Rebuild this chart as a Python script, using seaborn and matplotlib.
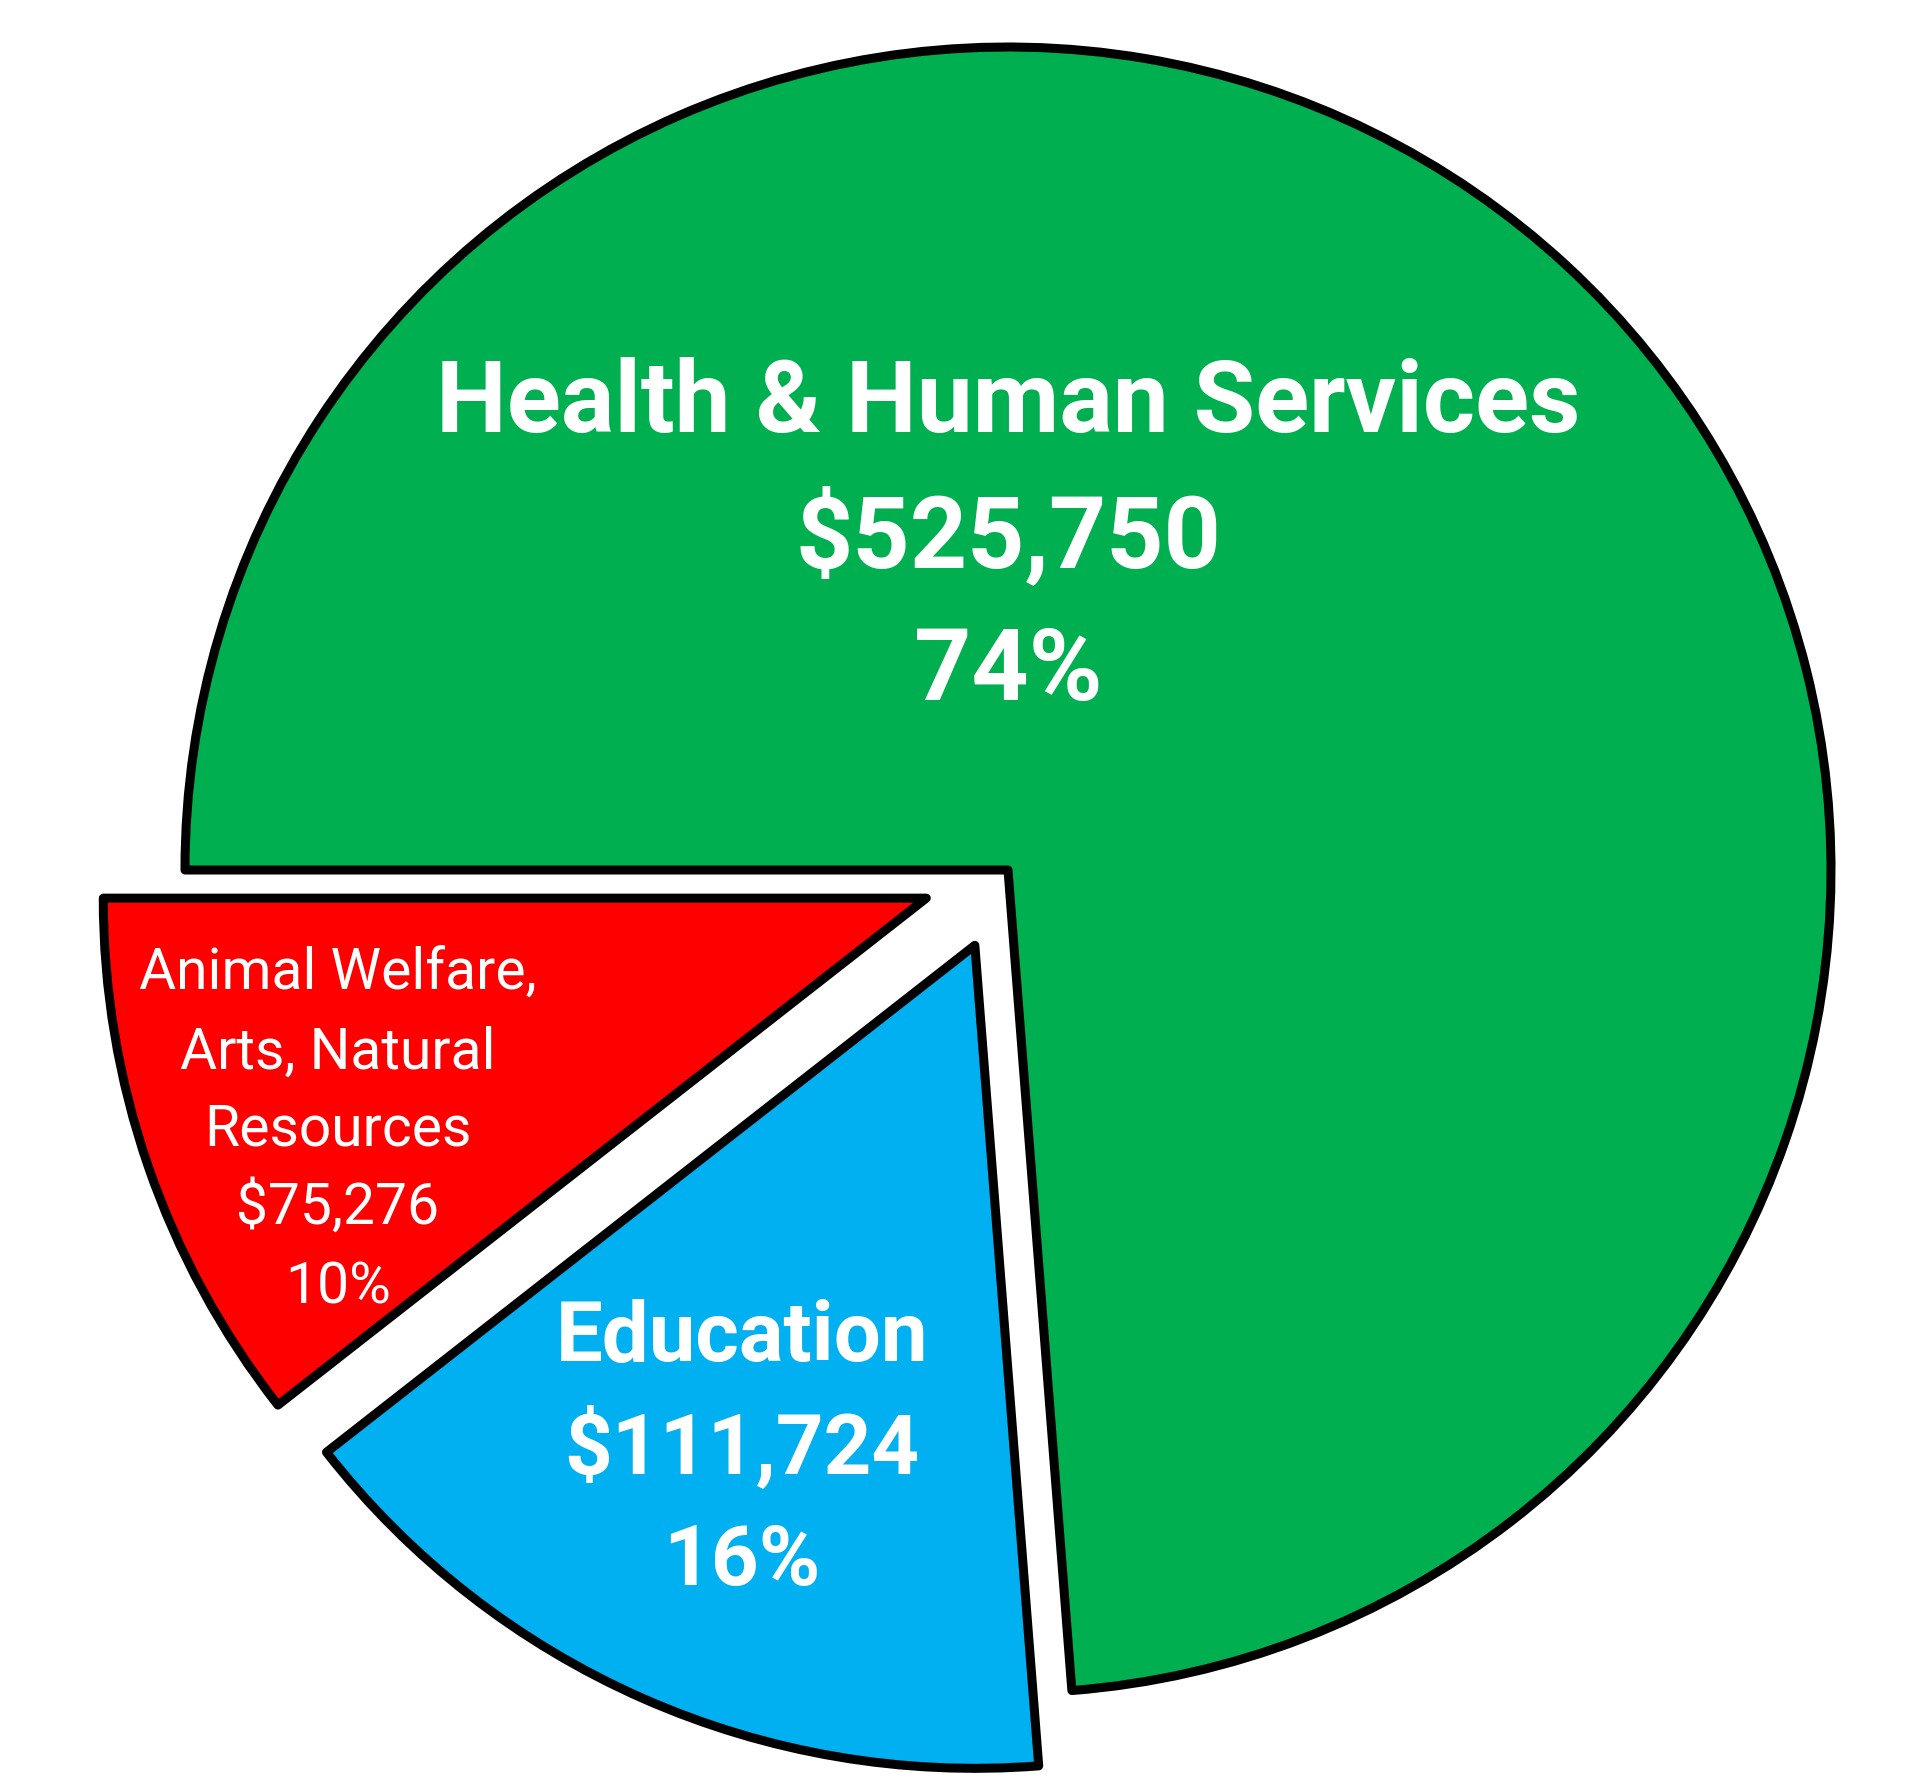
import matplotlib
matplotlib.use("Agg")
import matplotlib.pyplot as plt
import seaborn as sns

# ---- data ----
categories = ["Health & Human Services", "Education", "Animal Welfare,\nArts, Natural\nResources"]
amounts = [525750, 111724, 75276]
percents = [74, 16, 10]
colors = ["#00B050", "#00B0F0", "#FF0000"]

sns.set_theme(style="white")
plt.rcParams["font.family"] = ["Roboto", "DejaVu Sans"]

W, H, DPI = 1908, 1780, 100
fig = plt.figure(figsize=(W / DPI, H / DPI), dpi=DPI)
fig.patch.set_facecolor("white")
ax = fig.add_axes([0, 0, 1, 1])

# pie geometry in pixels
CX, CY, R = 1008, 870, 823

wedges, _ = ax.pie(
    amounts,
    colors=colors,
    startangle=180,
    counterclock=False,
    explode=[0, 0.1, 0.105],
    radius=1,
    wedgeprops=dict(edgecolor="black", linewidth=6.5, joinstyle="round"),
)

ax.set_xlim(-CX / R, (W - CX) / R)
ax.set_ylim(-(H - CY) / R, CY / R)
ax.set_aspect("equal")
ax.axis("off")


def to_data(px, py):
    return (px - CX) / R, (CY - py) / R


def label_lines(i):
    return categories[i].split("\n") + [f"${amounts[i]:,}", f"{percents[i]}%"]


# Health & Human Services
for line, by in zip(label_lines(0), [432, 567, 700]):
    x, y = to_data(1008, by)
    ax.text(x, y, line, ha="center", va="baseline", color="white",
            fontsize=72, fontweight="bold")

# Education
for line, by in zip(label_lines(1), [1361, 1474, 1585]):
    x, y = to_data(742, by)
    ax.text(x, y, line, ha="center", va="baseline", color="white",
            fontsize=60, fontweight="bold")

# Animal Welfare, Arts, Natural Resources
for line, by in zip(label_lines(2), [989, 1069, 1146, 1224, 1303]):
    x, y = to_data(338, by)
    ax.text(x, y, line, ha="center", va="baseline", color="white",
            fontsize=41)

fig.savefig("out.png", dpi=DPI, facecolor="white")
